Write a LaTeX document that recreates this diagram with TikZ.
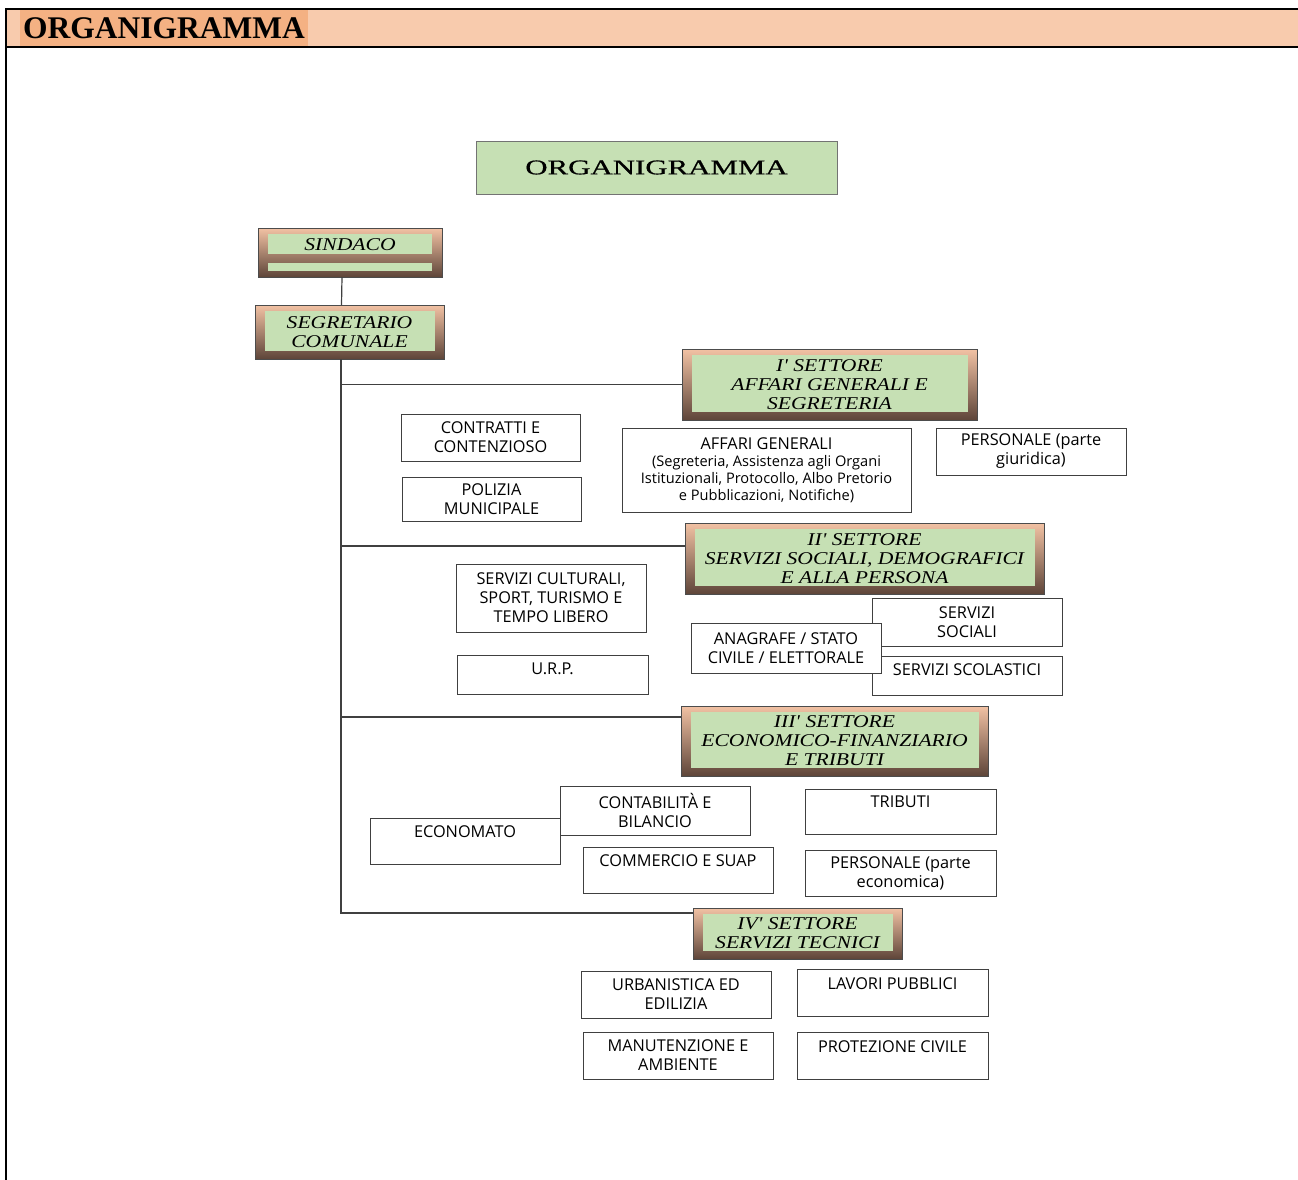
\documentclass[tikz,border=0pt]{standalone}
\usepackage{fontspec}
\usepackage{tikz}
\setmainfont{Liberation Serif}
\newfontfamily\boxfont{Open Sans}
\newfontfamily\settfont[FakeStretch=1.2]{Liberation Serif}
\newfontfamily\titlefont[FakeStretch=1.47, FakeBold=0.7]{Liberation Serif}
\usetikzlibrary{calc}
\definecolor{headpeach}{HTML}{F8CBAD}
\definecolor{headorange}{HTML}{F4B183}
\definecolor{boxgreen}{HTML}{C6E0B4}
\definecolor{frametop}{HTML}{F2C2A4}
\definecolor{framebot}{HTML}{5E4539}
\definecolor{linegray}{HTML}{404040}

\begin{document}
\begin{tikzpicture}[x=1pt, y=-1pt,
    box/.style={rectangle, draw=black!75, line width=0.8pt, fill=white, inner sep=0pt, outer sep=0pt,
        minimum width=190pt, minimum height=47pt, align=center, font=\boxfont\fontsize{16.3}{19}\selectfont},
    upbox/.style={box, text height=11pt, text depth=#1},
    settore/.style={rectangle, draw=black!70, line width=0.6pt, inner sep=0pt, outer sep=0pt, align=center,
        font=\settfont\itshape\fontsize{18}{19}\selectfont,
        path picture={
            \shade[top color=frametop, bottom color=framebot] (path picture bounding box.north west) rectangle (path picture bounding box.south east);
            \fill[boxgreen] ([shift={(10pt,-6pt)}]path picture bounding box.north west) rectangle ([shift={(-9pt,8pt)}]path picture bounding box.south east);}},
    sindacobox/.style={settore, minimum width=184pt, minimum height=49pt, text height=12pt, text depth=17pt,
        path picture={
            \shade[top color=frametop, bottom color=framebot] (path picture bounding box.north west) rectangle (path picture bounding box.south east);
            \fill[boxgreen] ([shift={(10pt,-6pt)}]path picture bounding box.north west) rectangle ([shift={(-10pt,-26pt)}]path picture bounding box.north east);
            \fill[boxgreen] ([shift={(10pt,14pt)}]path picture bounding box.south west) rectangle ([shift={(-10pt,6pt)}]path picture bounding box.south east);}},
    titlebox/.style={rectangle, draw=black!55, line width=0.8pt, fill=boxgreen, minimum width=361pt, minimum height=53pt,
        font=\titlefont\fontsize{21}{25}\selectfont},
    headtxt/.style={rectangle, fill=headorange, inner xsep=3pt, inner ysep=0pt, minimum height=36pt,
        font=\bfseries\fontsize{31.5}{36}\selectfont},
    link/.style={draw=linegray, line width=1.2pt}
]
\useasboundingbox (0,0) rectangle (1298,1180);

% header band
\fill[headpeach] (6,9) rectangle (1298,47);
\node[headtxt, anchor=west] (header) at (20,28) {ORGANIGRAMMA};
\draw[line width=2.5pt] (1298,9) -- (6,9) -- (6,1180);
\draw[line width=2.5pt] (6,47) -- (1298,47);

\node[titlebox] (title) at (656.5,167.5) {ORGANIGRAMMA};

\node[sindacobox] (sindaco) at (350,252.5) {SINDACO};
\node[settore, minimum width=189pt, minimum height=54pt] (segretario) at (349.5,332) {SEGRETARIO\\COMUNALE};

% I settore
\node[settore, minimum width=295pt, minimum height=71pt] (settore1) at (829.5,384.5) {I' SETTORE\\AFFARI GENERALI E\\SEGRETERIA};
\node[box, minimum width=179pt] (contratti) at (490.5,437.5) {CONTRATTI E\\CONTENZIOSO};
\node[box, minimum width=179pt, minimum height=44pt] (polizia) at (491.5,499) {POLIZIA\\MUNICIPALE};
\node[box, minimum width=289pt, minimum height=84pt, font=\boxfont\fontsize{14.6}{17}\selectfont] (affari) at (766.5,470)
    {{\fontsize{16.3}{19}\selectfont AFFARI GENERALI}\\(Segreteria, Assistenza agli Organi\\Istituzionali, Protocollo, Albo Pretorio\\e Pubblicazioni, Notifiche)};
\node[box] (giuridica) at (1031,451.5) {PERSONALE (parte\\giuridica)};

% II settore
\node[settore, minimum width=359pt, minimum height=71pt] (settore2) at (864.5,558.5) {II' SETTORE\\SERVIZI SOCIALI, DEMOGRAFICI\\E ALLA PERSONA};
\node[box, minimum height=68pt] (culturali) at (551,598) {SERVIZI CULTURALI,\\SPORT, TURISMO E\\TEMPO LIBERO};
\node[upbox=11pt, minimum width=191pt, minimum height=39pt] (urp) at (552.5,674.5) {U.R.P.};
\node[box, minimum height=48pt] (sociali) at (967,622) {SERVIZI\\SOCIALI};
\node[upbox=11pt, minimum height=39pt] (scolastici) at (967,675.5) {SERVIZI SCOLASTICI};
\node[box, minimum height=50pt] (anagrafe) at (786,648) {ANAGRAFE / STATO\\CIVILE / ELETTORALE};

% III settore
\node[settore, minimum width=307pt, minimum height=70pt] (settore3) at (834.5,741) {III' SETTORE\\ECONOMICO-FINANZIARIO\\E TRIBUTI};
\node[upbox=18pt, minimum height=46pt] (economato) at (465,841) {ECONOMATO};
\node[box, minimum height=49pt] (contabilita) at (655,810.5) {CONTABILITÀ E\\BILANCIO};
\node[upbox=19pt, minimum width=191pt, minimum height=45pt] (tributi) at (900.5,811.5) {TRIBUTI};
\node[upbox=18pt, minimum height=46pt] (commercio) at (678,870) {COMMERCIO E SUAP};
\node[box, minimum width=191pt, minimum height=46pt] (economica) at (900.5,873) {PERSONALE (parte\\economica)};

% IV settore
\node[settore, minimum width=209pt, minimum height=51pt] (settore4) at (797.5,933.5) {IV' SETTORE\\SERVIZI TECNICI};
\node[box] (urbanistica) at (676,994.5) {URBANISTICA ED\\EDILIZIA};
\node[upbox=17pt, minimum width=191pt] (lavori) at (892.5,992.5) {LAVORI PUBBLICI};
\node[box] (manutenzione) at (678,1055.5) {MANUTENZIONE E\\AMBIENTE};
\node[upbox=17pt, minimum width=191pt] (protezione) at (892.5,1055.5) {PROTEZIONE CIVILE};

% connectors
\coordinate (trunk) at ([xshift=-8.5pt]segretario.south);
\draw[link] ([xshift=-8pt]sindaco.south) -- ([xshift=-8pt]segretario.north);
\foreach \s/\dy in {settore1/0, settore2/12.5, settore3/24, settore4/20.5}
    \draw[link] (trunk) |- ([yshift=\dy pt]\s.west);

\end{tikzpicture}
\end{document}
